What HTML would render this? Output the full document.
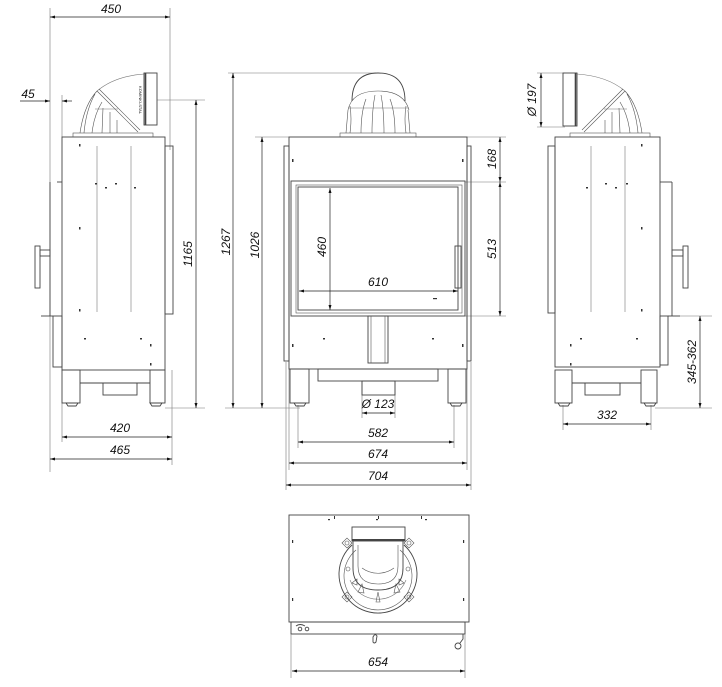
<!DOCTYPE html>
<html><head><meta charset="utf-8"><style>
html,body{margin:0;padding:0;background:#fff;width:722px;height:687px;overflow:hidden}
svg{display:block}
text{font-family:"Liberation Sans",sans-serif;font-style:italic;font-size:12px;fill:#111}
.l{stroke:#444;stroke-width:0.9;fill:none}
.r{stroke:#555;stroke-width:0.6;fill:none}
.t{stroke:#777;stroke-width:0.6;fill:none}
.d{stroke:#222;stroke-width:0.7;fill:none}
.f{fill:#333;stroke:none}
</style></head><body>
<svg width="722" height="687" viewBox="0 0 722 687" xmlns="http://www.w3.org/2000/svg">
<defs>
<marker id="a" viewBox="0 0 10 10" refX="10" refY="5" markerWidth="7" markerHeight="5" orient="auto-start-reverse" markerUnits="userSpaceOnUse"><path d="M0,2 L10,5 L0,8 z" fill="#111"/></marker>
</defs>

<!-- ============ LEFT SIDE VIEW ============ -->
<g>
<line class="t" x1="50" y1="8" x2="50" y2="472"/>
<line class="t" x1="170" y1="8" x2="170" y2="150"/>
<line class="t" x1="62" y1="95" x2="62" y2="137"/>
<line class="t" x1="157" y1="100" x2="205" y2="100"/>
<line class="t" x1="165" y1="408" x2="205" y2="408"/>
<line class="t" x1="172" y1="370" x2="172" y2="465"/>
<line class="t" x1="62" y1="403" x2="62" y2="442"/>
<line class="d" x1="50" y1="17" x2="170" y2="17" marker-start="url(#a)" marker-end="url(#a)"/>
<text x="111" y="13" text-anchor="middle">450</text>
<line class="d" x1="20" y1="101" x2="50" y2="101" marker-end="url(#a)"/>
<line class="d" x1="62" y1="101" x2="72" y2="101" marker-start="url(#a)"/>
<text x="28" y="98" text-anchor="middle">45</text>
<line class="d" x1="196" y1="100" x2="196" y2="408" marker-start="url(#a)" marker-end="url(#a)"/>
<text transform="translate(192,254) rotate(-90)" text-anchor="middle">1165</text>
<line class="d" x1="62" y1="437" x2="172" y2="437" marker-start="url(#a)" marker-end="url(#a)"/>
<text x="120" y="432" text-anchor="middle">420</text>
<line class="d" x1="50" y1="459" x2="172" y2="459" marker-start="url(#a)" marker-end="url(#a)"/>
<text x="120" y="454" text-anchor="middle">465</text>
<rect class="l" x="62" y="137" width="103" height="233"/>
<rect class="l" x="165" y="146" width="8" height="168"/>
<line class="l" x1="57" y1="182" x2="62" y2="182"/>
<line class="l" x1="50" y1="182" x2="50" y2="316"/>
<rect class="l" x="53" y="316" width="9" height="51"/>
<line class="t" x1="97" y1="146" x2="97" y2="312"/>
<line class="t" x1="131" y1="146" x2="131" y2="312"/>
<rect class="f" x="79" y="144" width="1.5" height="2.5"/><rect class="f" x="79" y="227" width="1.5" height="2.5"/><rect class="f" x="79" y="309" width="1.5" height="2.5"/>
<rect class="f" x="95" y="183" width="2" height="1.5"/><rect class="f" x="105" y="187" width="2" height="1.5"/><rect class="f" x="115" y="183" width="2" height="1.5"/><rect class="f" x="134" y="187" width="2" height="1.5"/>
<rect class="f" x="84" y="338" width="2" height="1.5"/><rect class="f" x="140" y="338" width="2" height="1.5"/><rect class="f" x="150" y="344" width="1.5" height="2.5"/><rect class="f" x="150" y="363" width="1.5" height="2.5"/>
<rect class="l" x="35" y="246" width="5" height="42"/>
<rect class="l" x="40" y="250" width="10" height="6"/>
<line class="l" x1="41" y1="316" x2="53" y2="316"/>
<rect class="l" x="62" y="370" width="18" height="33"/>
<rect class="l" x="150" y="370" width="15" height="33"/>
<line class="l" x1="80" y1="383" x2="150" y2="383"/>
<rect class="l" x="103" y="383" width="34" height="12"/>
<path class="l" d="M66,403 h12 l-2,3 h-8 z M150,403 h12 l-2,3 h-8 z"/>
<rect class="r" x="73" y="133" width="80" height="4"/>
<path class="t" d="M97,91 Q115,76 144,74"/>
<rect class="l" x="144" y="73" width="13" height="52"/>
<line class="l" x1="145.5" y1="73" x2="145.5" y2="125" style="stroke-width:1.6"/>
<line class="r" x1="97" y1="91" x2="138" y2="132"/>
<line class="r" x1="99" y1="89" x2="140" y2="130"/>
<path class="r" d="M97,91 Q84,105 80,133 M95,94 Q86,110 84,133 M102,102 Q94,115 92,133 M103,108 L102,133 M110,112 L110,133 M117,120 L117,133"/>
<line class="t" x1="95" y1="109" x2="118" y2="109"/>
<text transform="translate(139,100) rotate(90)" style="font-size:4px;font-style:normal" text-anchor="middle">KOMINKI-STAL</text>
</g>

<!-- ============ FRONT VIEW ============ -->
<g>
<line class="t" x1="228" y1="73" x2="376" y2="73"/>
<line class="t" x1="255" y1="137" x2="289" y2="137"/>
<line class="t" x1="467" y1="137" x2="506" y2="137"/>
<line class="t" x1="465" y1="182" x2="506" y2="182"/>
<line class="t" x1="465" y1="316" x2="506" y2="316"/>
<line class="t" x1="225" y1="408" x2="300" y2="408"/>
<line class="t" x1="298" y1="405" x2="298" y2="448"/>
<line class="t" x1="454" y1="405" x2="454" y2="448"/>
<line class="t" x1="289" y1="369" x2="289" y2="470"/>
<line class="t" x1="467" y1="369" x2="467" y2="470"/>
<line class="t" x1="286" y1="362" x2="286" y2="490"/>
<line class="t" x1="471" y1="362" x2="471" y2="490"/>
<line class="t" x1="362" y1="381" x2="362" y2="418"/>
<line class="t" x1="395" y1="381" x2="395" y2="418"/>

<line class="d" x1="233" y1="73" x2="233" y2="408" marker-start="url(#a)" marker-end="url(#a)"/>
<text transform="translate(230,242) rotate(-90)" text-anchor="middle">1267</text>
<line class="d" x1="262" y1="137" x2="262" y2="408" marker-start="url(#a)" marker-end="url(#a)"/>
<text transform="translate(259,245) rotate(-90)" text-anchor="middle">1026</text>
<line class="d" x1="500" y1="137" x2="500" y2="182" marker-start="url(#a)" marker-end="url(#a)"/>
<text transform="translate(496,159) rotate(-90)" text-anchor="middle">168</text>
<line class="d" x1="500" y1="182" x2="500" y2="316" marker-start="url(#a)" marker-end="url(#a)"/>
<text transform="translate(496,249) rotate(-90)" text-anchor="middle">513</text>
<line class="d" x1="330" y1="188" x2="330" y2="310" marker-start="url(#a)" marker-end="url(#a)"/>
<text transform="translate(326,247) rotate(-90)" text-anchor="middle">460</text>
<line class="d" x1="299" y1="291" x2="458" y2="291" marker-start="url(#a)" marker-end="url(#a)"/>
<text x="378" y="286" text-anchor="middle">610</text>
<line class="d" x1="362" y1="413" x2="395" y2="413" marker-start="url(#a)" marker-end="url(#a)"/>
<text x="378" y="408" text-anchor="middle">Ø 123</text>
<line class="d" x1="298" y1="442" x2="454" y2="442" marker-start="url(#a)" marker-end="url(#a)"/>
<text x="378" y="437" text-anchor="middle">582</text>
<line class="d" x1="289" y1="463" x2="467" y2="463" marker-start="url(#a)" marker-end="url(#a)"/>
<text x="378" y="458" text-anchor="middle">674</text>
<line class="d" x1="286" y1="485" x2="471" y2="485" marker-start="url(#a)" marker-end="url(#a)"/>
<text x="378" y="480" text-anchor="middle">704</text>

<rect class="l" x="289" y="137" width="178" height="232"/>
<rect class="l" x="284" y="146" width="5" height="215"/>
<rect class="l" x="467" y="146" width="4" height="215"/>
<rect class="l" x="291" y="181" width="174" height="135"/>
<rect class="r" x="296" y="185" width="166" height="128"/>
<rect class="l" x="298" y="187" width="160" height="123"/>
<rect class="l" x="455" y="246" width="6" height="42"/>
<rect class="l" x="368" y="316" width="20" height="47"/>
<line class="r" x1="371" y1="316" x2="371" y2="363"/><line class="r" x1="385" y1="316" x2="385" y2="363"/>
<rect class="f" x="292" y="159" width="1.5" height="3"/><rect class="f" x="462" y="159" width="1.5" height="3"/>
<rect class="f" x="292" y="344" width="1.5" height="3"/><rect class="f" x="462" y="344" width="1.5" height="3"/>
<rect class="f" x="323" y="338" width="2" height="1.5"/><rect class="f" x="432" y="338" width="2" height="1.5"/>
<rect class="f" x="433" y="298" width="4" height="1.2"/>
<rect class="l" x="290" y="369" width="19" height="34"/>
<rect class="l" x="448" y="369" width="18" height="34"/>
<rect class="l" x="318" y="369" width="120" height="12"/>
<rect class="l" x="362" y="381" width="33" height="14"/>
<path class="l" d="M294,403 h12 l-2,3 h-8 z M450,403 h12 l-2,3 h-8 z"/>
<path class="l" d="M352,101 Q352,73 378,73 Q405,73 405,101"/>
<path class="r" d="M348,110 Q352,91 378,91 Q404,91 409,110"/>
<path class="r" d="M346,133 L348,110 M410,133 L408,110 M350,133 Q352,118 350,106 M406,133 Q404,118 406,106 M361,133 Q361,112 366,99 M395,133 Q395,112 390,99 M372,133 Q372,110 375,95 M384,133 Q384,110 381,95"/>
<line class="t" x1="348" y1="108" x2="409" y2="108"/>
<rect class="r" x="340" y="133" width="76" height="4"/>
</g>

<!-- ============ RIGHT SIDE VIEW ============ -->
<g>
<line class="t" x1="537" y1="73" x2="565" y2="73"/>
<line class="t" x1="537" y1="127" x2="565" y2="127"/>
<line class="t" x1="668" y1="316" x2="712" y2="316"/>
<line class="t" x1="655" y1="408" x2="712" y2="408"/>
<line class="t" x1="563" y1="405" x2="563" y2="430"/>
<line class="t" x1="651" y1="405" x2="651" y2="430"/>
<line class="d" x1="541" y1="73" x2="541" y2="127" marker-start="url(#a)" marker-end="url(#a)"/>
<text transform="translate(536,100) rotate(-90)" text-anchor="middle">Ø 197</text>
<line class="d" x1="700" y1="316" x2="700" y2="408" marker-start="url(#a)" marker-end="url(#a)"/>
<text transform="translate(696,362) rotate(-90)" text-anchor="middle">345-362</text>
<line class="d" x1="563" y1="424" x2="651" y2="424" marker-start="url(#a)" marker-end="url(#a)"/>
<text x="607" y="419" text-anchor="middle">332</text>

<rect class="l" x="555" y="137" width="105" height="230"/>
<rect class="l" x="548" y="146" width="7" height="167"/>
<line class="l" x1="660" y1="182" x2="672" y2="182"/>
<line class="l" x1="672" y1="182" x2="672" y2="316"/>
<rect class="l" x="660" y="316" width="8" height="49"/>
<line class="t" x1="591" y1="146" x2="591" y2="312"/>
<line class="t" x1="625" y1="146" x2="625" y2="312"/>
<rect class="f" x="641" y="144" width="1.5" height="2.5"/><rect class="f" x="641" y="227" width="1.5" height="2.5"/><rect class="f" x="641" y="309" width="1.5" height="2.5"/>
<rect class="f" x="586" y="187" width="2" height="1.5"/><rect class="f" x="605" y="183" width="2" height="1.5"/><rect class="f" x="615" y="187" width="2" height="1.5"/><rect class="f" x="626" y="183" width="2" height="1.5"/>
<rect class="f" x="580" y="338" width="2" height="1.5"/><rect class="f" x="636" y="338" width="2" height="1.5"/><rect class="f" x="570" y="344" width="1.5" height="2.5"/><rect class="f" x="570" y="363" width="1.5" height="2.5"/>
<rect class="l" x="683" y="246" width="5" height="42"/>
<rect class="l" x="672" y="250" width="11" height="6"/>
<line class="l" x1="668" y1="316" x2="680" y2="316"/>
<rect class="l" x="555" y="370" width="17" height="33"/>
<rect class="l" x="641" y="370" width="16" height="33"/>
<line class="l" x1="572" y1="383" x2="641" y2="383"/>
<rect class="l" x="585" y="383" width="35" height="12"/>
<path class="l" d="M558,403 h12 l-2,3 h-8 z M644,403 h12 l-2,3 h-8 z"/>
<rect class="r" x="570" y="133" width="80" height="4"/>
<path class="t" d="M625,91 Q607,76 577,74"/>
<rect class="l" x="563" y="73" width="14" height="53"/>
<line class="l" x1="575.5" y1="73" x2="575.5" y2="126" style="stroke-width:1.6"/>
<line class="r" x1="625" y1="91" x2="584" y2="132"/>
<line class="r" x1="623" y1="89" x2="582" y2="130"/>
<path class="r" d="M625,91 Q638,105 642,133 M627,94 Q636,110 638,133 M620,102 Q628,115 630,133 M619,108 L620,133 M612,112 L612,133 M605,120 L605,133"/>
<line class="t" x1="604" y1="109" x2="627" y2="109"/>
</g>

<!-- ============ TOP VIEW ============ -->
<g>
<rect class="l" x="289" y="515" width="180" height="107"/>
<rect class="l" x="291" y="622" width="174" height="12"/>
<line class="t" x1="291" y1="634" x2="291" y2="678"/>
<line class="t" x1="465" y1="634" x2="465" y2="678"/>
<line class="d" x1="292" y1="671" x2="465" y2="671" marker-start="url(#a)" marker-end="url(#a)"/>
<text x="378" y="666" text-anchor="middle">654</text>
<rect class="f" x="334" y="516" width="1" height="3"/><rect class="f" x="378" y="516" width="1" height="3"/><rect class="f" x="421" y="516" width="1" height="3"/>
<rect class="f" x="328" y="519" width="2" height="1.2"/><rect class="f" x="376" y="519" width="2" height="1.2"/><rect class="f" x="425" y="519" width="2" height="1.2"/>
<rect class="f" x="292" y="540" width="1.2" height="3"/><rect class="f" x="292" y="598" width="1.2" height="3"/><rect class="f" x="463" y="540" width="1.2" height="3"/><rect class="f" x="463" y="598" width="1.2" height="3"/>
<path class="l" d="M352,545 A39,39 0 1 0 404,545"/>
<path class="r" d="M356,550 A34,34 0 1 0 400,550"/>
<path class="r" d="M362,568 A27,27 0 0 0 394,568"/>
<path class="t" d="M350,580 A30,30 0 0 0 406,580"/>
<rect class="l" x="352" y="527" width="53" height="14"/>
<line class="l" x1="352" y1="540" x2="405" y2="540" style="stroke-width:2"/>
<path class="l" d="M353,541 L353,568 Q353,590 378,590 Q403,590 403,568 L403,541"/>
<path class="r" d="M358,545 L358,566 Q358,584 378,584 Q398,584 398,566 L398,545"/>
<g class="r">
<path d="M342,543 l5,-5 l5,5 l-5,5 z M404,543 l5,-5 l5,5 l-5,5 z M342,597 l5,-5 l5,5 l-5,5 z M404,597 l5,-5 l5,5 l-5,5 z"/>
<circle cx="347" cy="543" r="2"/><circle cx="409" cy="543" r="2"/><circle cx="347" cy="597" r="2"/><circle cx="409" cy="597" r="2"/>
<circle cx="348" cy="569" r="2"/><circle cx="408" cy="569" r="2"/>
<path d="M358,592 l4,-8 l2,9 z M376,602 l2,-10 l2,10 z M394,593 l2,-9 l4,8 z M352,583 l5,-4 l0,6 z M404,583 l-5,-4 l0,6 z"/>
</g>
<circle class="l" cx="300" cy="629" r="1.8"/><circle class="l" cx="307" cy="629" r="1.8"/><path class="l" d="M296,626 q4,-3 9,0"/>
<path class="l" d="M373,637 q2,-4 4,-1 l-1,6 q-2,2 -3,0 z"/>
<path class="l" d="M463,634 l0,5 l-3,4"/><circle class="l" cx="458" cy="646" r="3"/>
</g>
</svg>
</body></html>
